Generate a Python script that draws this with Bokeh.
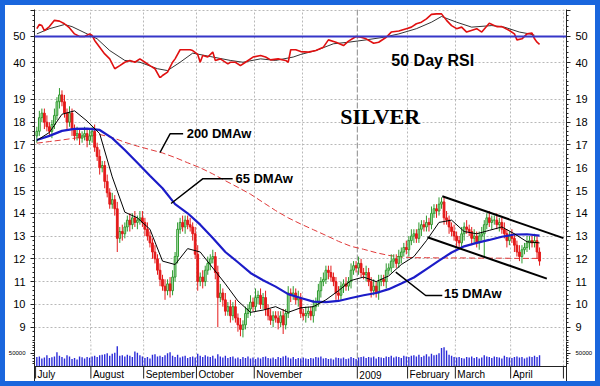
from bokeh.plotting import figure
from bokeh.layouts import column
from bokeh.models import Range1d, LinearAxis, FixedTicker, SingleIntervalTicker, Span, ColumnDataSource
from bokeh.core.properties import value
from bokeh.embed import file_html
from bokeh.resources import INLINE

# ---------------- data ----------------
# trading-day index 0 = 1 July 2008
closes = [
    17.6, 18.2, 18.4, 18.0, 17.8, 17.6, 17.9, 18.3, 18.9, 19.2,
    18.9, 18.4, 18.0, 18.4, 17.7, 17.4, 17.5, 17.3, 17.4, 17.5,
    17.2, 17.4, 17.6, 16.9, 16.5, 16.0, 16.1, 15.4, 14.9, 14.4,
    14.6, 14.2, 12.9, 13.2, 13.1, 13.4, 13.7, 13.5, 13.8, 13.6,
    13.7, 13.8, 13.6, 13.3, 13.0, 12.7, 12.3, 12.0, 11.5, 11.1,
    10.8, 10.6, 10.9, 10.6, 11.2, 12.1, 13.3, 13.6, 13.4, 13.7,
    13.5, 13.4, 13.1, 12.2, 11.0, 11.2, 11.0, 11.5, 11.8, 12.0,
    12.1, 11.4, 10.3, 10.5, 10.2, 9.7, 9.9, 9.5, 9.9, 9.4,
    9.1, 8.9, 9.1, 9.6, 9.8, 10.1, 9.9, 10.3, 10.4, 10.0,
    10.3, 9.8, 9.5, 9.3, 9.5, 9.4, 9.2, 9.5, 9.1, 9.6,
    10.5, 10.4, 10.5, 10.2, 10.3, 9.6, 9.5, 9.6, 9.7, 9.5,
    9.9, 10.1, 10.6, 11.0, 11.1, 11.5, 11.4, 11.2, 11.0, 10.5,
    10.4, 10.8, 10.9, 10.8, 11.0, 11.5, 11.7, 11.6, 11.8, 11.4,
    11.3, 11.4, 11.0, 10.6, 10.8, 10.5, 11.0, 11.1, 11.0, 11.5,
    11.6, 11.9, 12.0, 11.8, 12.1, 12.3, 12.5, 12.4, 12.8, 13.0,
    13.1, 12.9, 13.3, 13.5, 13.4, 13.6, 13.5, 14.0, 14.2, 14.1,
    14.4, 14.5, 13.8, 13.7, 13.4, 13.2, 13.0, 12.8, 12.7, 13.1,
    13.4, 13.3, 13.2, 12.9, 13.0, 12.7, 13.0, 13.1, 13.5, 13.8,
    13.6, 13.7, 13.7, 13.5, 13.6, 13.3, 13.1, 12.8, 13.0, 12.9,
    12.6, 12.3, 12.1, 12.4, 12.5, 12.7, 12.8, 12.7, 12.8, 12.3,
    11.9,
]
opens = [
    17.4, 17.6, 18.2, 18.4, 18.0, 17.8, 17.6, 17.9, 18.3, 18.9,
    19.2, 18.9, 18.4, 18.0, 18.4, 17.7, 17.4, 17.5, 17.3, 17.4,
    17.5, 17.2, 17.4, 17.6, 16.9, 16.5, 16.0, 16.1, 15.4, 14.9,
    14.4, 14.6, 14.2, 12.9, 13.2, 13.1, 13.4, 13.7, 13.5, 13.8,
    13.6, 13.7, 13.8, 13.6, 13.3, 13.0, 12.7, 12.3, 12.0, 11.5,
    11.1, 10.8, 10.6, 10.9, 10.6, 11.2, 12.1, 13.3, 13.6, 13.4,
    13.7, 13.5, 13.4, 13.1, 12.2, 11.0, 11.2, 11.0, 11.5, 11.8,
    12.0, 12.1, 11.4, 10.3, 10.5, 10.2, 9.7, 9.9, 9.5, 9.9,
    9.4, 9.1, 8.9, 9.1, 9.6, 9.8, 10.1, 9.9, 10.3, 10.4,
    10.0, 10.3, 9.8, 9.5, 9.3, 9.5, 9.4, 9.2, 9.5, 9.1,
    9.6, 10.5, 10.4, 10.5, 10.2, 10.3, 9.6, 9.5, 9.6, 9.7,
    9.5, 9.9, 10.1, 10.6, 11.0, 11.1, 11.5, 11.4, 11.2, 11.0,
    10.5, 10.4, 10.8, 10.9, 10.8, 11.0, 11.5, 11.7, 11.6, 11.8,
    11.4, 11.3, 11.4, 11.0, 10.6, 10.8, 10.5, 11.0, 11.1, 11.0,
    11.5, 11.6, 11.9, 12.0, 11.8, 12.1, 12.3, 12.5, 12.4, 12.8,
    13.0, 13.1, 12.9, 13.3, 13.5, 13.4, 13.6, 13.5, 14.0, 14.2,
    14.1, 14.4, 14.5, 13.8, 13.7, 13.4, 13.2, 13.0, 12.8, 12.7,
    13.1, 13.4, 13.3, 13.2, 12.9, 13.0, 12.7, 13.0, 13.1, 13.5,
    13.8, 13.6, 13.7, 13.7, 13.5, 13.6, 13.3, 13.1, 12.8, 13.0,
    12.9, 12.6, 12.3, 12.1, 12.4, 12.5, 12.7, 12.8, 12.7, 12.8,
    12.3,
]
wick_up = [
    .2, .3, .2, .2, .3, .2, .2, .3, .2, .3,
    .2, .3, .2, .3, .2, .2, .3, .2, .2, .3,
    .2, .3, .2, .3, .2, .3, .2, .2, .3, .2,
    .3, .2, .3, .2, .3, .2, .2, .3, .2, .3,
    .2, .3, .3, .2, .3, .2, .2, .3, .2, .3,
    .2, .3, .2, .3, .3, .2, .3, .2, .3, .2,
    .2, .3, .2, .3, .4, .2, .3, .2, .3, .2,
    .3, .2, .3, .4, .2, .3, .2, .3, .2, .3,
    .2, .3, .2, .3, .2, .3, .2, .4, .2, .3,
    .2, .3, .2, .3, .2, .2, .3, .2, .3, .2,
    .3, .2, .3, .2, .3, .2, .2, .3, .2, .2,
    .3, .2, .3, .2, .3, .2, .2, .3, .2, .2,
    .3, .2, .2, .3, .2, .3, .2, .2, .3, .2,
    .2, .3, .2, .2, .3, .2, .3, .2, .2, .3,
    .2, .3, .2, .2, .3, .2, .2, .3, .2, .3,
    .2, .2, .3, .2, .2, .3, .2, .3, .2, .2,
    .3, .2, .2, .3, .2, .2, .3, .2, .2, .3,
    .2, .3, .2, .2, .3, .2, .2, .3, .2, .2,
    .3, .2, .2, .3, .2, .2, .3, .2, .2, .3,
    .2, .2, .3, .2, .2, .3, .2, .2, .3, .2,
    .2,
]
wick_dn = [
    .3, .2, .2, .3, .2, .2, .3, .2, .2, .3,
    .2, .2, .3, .2, .3, .2, .2, .3, .2, .2,
    .3, .2, .3, .2, .2, .3, .2, .3, .2, .2,
    .2, .3, .6, .2, .3, .2, .2, .3, .2, .2,
    .3, .2, .2, .3, .2, .2, .3, .2, .2, .3,
    .2, .4, .2, .3, .2, .2, .3, .2, .2, .3,
    .2, .2, .3, .2, .4, .2, .3, .2, .2, .3,
    .2, .3, 1.3, .2, .3, .2, .2, .3, .2, .2,
    .3, .3, .35, .2, .2, .3, .2, .2, .3, .2,
    .2, .3, .2, .2, .3, .2, .3, .2, .4, .2,
    .2, .3, .2, .2, .3, .2, .2, .3, .2, .2,
    .3, .2, .2, .3, .2, .2, .3, .2, .2, .3,
    .2, .2, .3, .2, .2, .3, .2, .2, .3, .2,
    .2, .3, .2, .3, .2, .2, .3, .2, .2, .3,
    .2, .2, .3, .2, .2, .3, .2, .2, .3, .2,
    .3, .2, .2, .3, .2, .2, .3, .2, .2, .3,
    .2, .2, .3, .2, .3, .2, .2, .3, .2, .2,
    .3, .2, .2, .3, .2, .2, .3, .2, 1.0, .2,
    .2, .3, .2, .2, .3, .2, .2, .3, .2, .2,
    .3, .2, .2, .3, .2, .2, .3, .2, .2, .3,
    .2,
]
# volume in thousands of contracts
volume_k = [
    36, 38, 30, 34, 42, 32, 35, 38, 54, 40, 36, 30, 42, 38, 28, 32, 26, 38, 35, 30, 36, 33,
    38, 40, 36, 42, 44, 46, 50, 40, 48, 52, 76, 40, 42, 38, 44, 40, 36, 56, 52, 42, 38,
    32, 36, 30, 44, 46, 38, 40, 36, 42, 50, 54, 40, 36, 44, 34, 38, 40, 32, 36, 38, 34,
    48, 40, 36, 42, 38, 36, 40, 30, 46, 38, 34, 40, 32, 36, 38, 30, 34, 28, 36, 32, 38, 30, 34,
    28, 34, 30, 36, 38, 32, 30, 34, 28, 36, 32, 38, 40, 34, 30, 36, 28, 32, 30,
    34, 30, 28, 32, 30, 36, 34, 38, 30, 32, 28, 30, 26, 34, 32, 30, 34, 28, 30, 36, 32, 28,
    34, 36, 38, 32, 36, 34, 38, 30, 36, 34, 32, 38, 36, 40, 34, 38, 36, 32, 40, 38,
    36, 40, 42, 38, 44, 36, 40, 46, 38, 48, 42, 44, 50, 70, 72, 60, 44, 40, 36,
    34, 36, 32, 30, 36, 34, 38, 32, 36, 30, 34, 42, 38, 36, 32, 38, 36, 34, 30, 40, 36, 34,
    32, 36, 38, 34, 36, 30, 34, 38, 36, 40, 36, 42,
]

ma_days = [0, 5, 10, 15, 20, 25, 30, 35, 40, 45, 50, 55, 60, 65, 70, 75, 80, 85, 90, 95,
           100, 105, 110, 115, 120, 125, 130, 135, 140, 145, 150, 155, 160, 165, 170, 175,
           180, 185, 190, 195, 200]
dma15 = [17.2, 17.55, 18.35, 18.5, 18.05, 17.5, 15.6, 14.05, 13.8, 13.3, 11.9, 11.75, 12.45,
         12.3, 11.6, 10.9, 10.15, 9.65, 9.75, 9.9, 9.65, 9.85, 9.9, 10.2, 10.6, 11.05, 11.2,
         11.0, 11.25, 11.75, 12.1, 12.8, 13.6, 13.7, 13.2, 13.1, 13.25, 13.4, 13.1, 12.75, 12.7]
dma65 = [17.22, 17.40, 17.62, 17.71, 17.72, 17.66, 17.30, 16.78, 16.22, 15.65, 15.10, 14.40,
         14.00, 13.50, 12.92, 12.30, 11.85, 11.38, 11.06, 10.78, 10.45, 10.28, 10.12, 10.10,
         10.15, 10.28, 10.40, 10.50, 10.67, 10.92, 11.18, 11.55, 11.92, 12.28, 12.55, 12.70,
         12.83, 12.97, 13.07, 13.08, 13.02]
dma200 = [17.08, 17.15, 17.22, 17.30, 17.38, 17.46, 17.33, 17.12, 16.95, 16.80, 16.65, 16.45,
          16.22, 16.00, 15.73, 15.43, 15.14, 14.84, 14.48, 14.12, 13.80, 13.53, 13.28, 13.03,
          12.77, 12.55, 12.42, 12.27, 12.15, 12.08, 12.05, 12.05, 12.04, 12.04, 12.04, 12.03,
          12.03, 12.03, 12.02, 12.02, 12.02]

rsi_day = [0, 1, 2, 3, 5, 7, 9, 11, 13, 15, 17, 19, 21, 22, 23, 25, 27, 29, 31, 33, 35, 37,
           39, 41, 43, 45, 47, 49, 50, 52, 54, 55, 57, 59, 61, 62, 64, 65, 66, 68, 70, 71, 73,
           76, 77, 79, 81, 83, 86, 89, 91, 93, 96, 99, 100, 101, 103, 105, 108, 111, 114, 116,
           119, 122, 124, 127, 129, 131, 134, 136, 139, 141, 144, 147, 149, 151, 153, 155, 157,
           159, 161, 163, 165, 167, 169, 171, 175, 177, 180, 183, 185, 188, 190, 191, 193, 195,
           197, 198, 199, 200]
rsi_val = [53.0, 54.6, 54.2, 52.3, 53.8, 56.2, 55.9, 54.9, 53.3, 51.0, 50.0, 50.0, 51.0, 50.4,
           48.5, 45.9, 43.3, 41.4, 37.6, 38.8, 40.1, 40.8, 40.1, 41.4, 40.1, 38.8, 37.6, 34.1,
           35.0, 36.3, 40.1, 41.4, 44.9, 44.9, 44.9, 44.6, 43.1, 40.1, 42.7, 42.1, 44.0, 40.8,
           41.4, 39.5, 40.1, 40.1, 38.8, 40.1, 42.1, 42.7, 42.1, 41.0, 41.4, 40.8, 40.1, 44.9,
           44.9, 44.2, 44.0, 44.6, 45.9, 48.7, 47.8, 46.5, 48.2, 50.0, 49.7, 49.1, 47.4, 47.8,
           49.7, 51.7, 52.1, 53.0, 53.6, 54.9, 55.5, 56.8, 58.5, 58.7, 58.7, 56.2, 54.2, 53.0,
           53.6, 51.7, 53.0, 51.7, 55.1, 53.8, 53.8, 52.3, 51.0, 48.7, 49.1, 51.0, 51.3, 49.1,
           47.8, 47.0]
rsi_avg_day = [0, 5, 11, 14, 20, 24, 29, 35, 41, 48, 52, 57, 62, 69, 77, 82, 89, 95, 102, 105,
               111, 118, 124, 131, 138, 144, 151, 157, 161, 167, 173, 181, 186, 192, 196, 198]
rsi_avg_val = [51.0, 53.0, 54.6, 53.8, 51.0, 49.1, 44.6, 40.8, 40.1, 37.6, 36.9, 40.1, 43.6,
               42.3, 40.8, 40.1, 41.4, 40.8, 42.1, 43.1, 44.6, 47.2, 47.8, 48.7, 49.7, 51.0,
               53.0, 55.5, 57.7, 55.5, 53.6, 54.2, 53.6, 51.7, 51.0, 50.5]

# drawn trend channel and label leaders (day index, price)
channel_top_day = [161.3, 209.5]
channel_top_px = [14.75, 12.91]
channel_bot_day = [155.4, 202.9]
channel_bot_px = [12.95, 11.13]
lead200_day = [49.0, 53.0, 58.2]
lead200_px = [16.67, 17.49, 17.49]
lead65_day = [53.4, 66.1, 77.9]
lead65_px = [14.43, 15.52, 15.52]
lead15_day = [142.8, 154.7, 161.3]
lead15_px = [11.42, 10.39, 10.39]

month_start = [0, 22, 43, 64, 87, 106, 128, 148, 167, 189, 210]
month_names = ["July", "August", "September", "October", "November", "",
               "2009", "February", "March", "April", ""]

# ---------------- styling ----------------
FONT = "Liberation Sans"
AX = "#222222"
GRID = "#b8b8b8"
VPX = 3760          # contracts per pixel in the volume strip
x_range = Range1d(-0.93, 210.72)
new_year = month_start[6] - 0.5
grid_pos = [m - 0.5 for i, m in enumerate(month_start) if i not in (0, 6)]


def make_fig(height, y_range, top=0, bottom=0):
    p = figure(width=590, height=height, x_range=x_range, y_range=y_range,
               output_backend="svg", toolbar_location=None, x_axis_location=None,
               y_axis_location="left", min_border_left=29, min_border_right=27,
               min_border_top=top, min_border_bottom=bottom,
               background_fill_color="white", border_fill_color="white",
               outline_line_color=None)
    p.xgrid.ticker = FixedTicker(ticks=grid_pos)
    p.xgrid.grid_line_color = GRID
    p.xgrid.grid_line_dash = "2 2"
    p.ygrid.grid_line_color = GRID
    p.ygrid.grid_line_dash = "2 2"
    return p


def new_year_line(p):
    p.add_layout(Span(location=new_year, dimension="height", line_color="#8a8a8a",
                      line_dash="6 2", line_width=1, level="underlay"))


def style_y(ax, ticker, size="11px", overrides=None):
    ax.ticker = ticker
    ax.axis_line_color = AX
    ax.major_tick_out = 4
    ax.major_tick_in = 0
    ax.minor_tick_out = 2
    ax.minor_tick_in = 0
    ax.major_tick_line_color = AX
    ax.minor_tick_line_color = AX
    ax.major_label_text_font = FONT
    ax.major_label_text_font_size = size
    ax.major_label_text_color = "black"
    ax.major_label_standoff = 5
    if overrides:
        ax.major_label_overrides = overrides


# ---- RSI panel ----
p_rsi = make_fig(73, Range1d(33.85, 60.38), top=4)
new_year_line(p_rsi)
rsi_ticker = FixedTicker(ticks=[40, 50, 60], minor_ticks=list(range(34, 61, 2)))
style_y(p_rsi.yaxis[0], rsi_ticker, overrides={60: ""})
r_ax = LinearAxis(ticker=rsi_ticker)
style_y(r_ax, rsi_ticker, overrides={60: ""})
p_rsi.add_layout(r_ax, "right")
p_rsi.ygrid.ticker = rsi_ticker
p_rsi.add_layout(Span(location=50, dimension="width", line_color="#3636c8", line_width=2))
p_rsi.line(rsi_avg_day, rsi_avg_val, line_color="black", line_width=0.8)
p_rsi.line(rsi_day, rsi_val, line_color="#e01010", line_width=1.6)
p_rsi.text(x=[157.5], y=[40.8], text=["50 Day RSI"], text_align="center",
           text_baseline="middle", text_font=value(FONT), text_font_style="bold",
           text_font_size="16px", text_color="black")

# ---- price panel ----
p_px = make_fig(263, Range1d(8.37, 19.92))
new_year_line(p_px)
px_ticker = SingleIntervalTicker(interval=1, num_minor_ticks=5)
style_y(p_px.yaxis[0], px_ticker)
r_ax2 = LinearAxis(ticker=px_ticker)
style_y(r_ax2, px_ticker)
p_px.add_layout(r_ax2, "right")
p_px.ygrid.ticker = px_ticker

days = list(range(len(closes)))
highs = [max(o, c) + w for o, c, w in zip(opens, closes, wick_up)]
lows = [min(o, c) - w for o, c, w in zip(opens, closes, wick_dn)]
up = [c >= o for o, c in zip(opens, closes)]


def subset(flag):
    idx = [i for i in days if up[i] == flag]
    return ColumnDataSource(dict(
        x=[days[i] for i in idx], o=[opens[i] for i in idx], c=[closes[i] for i in idx],
        h=[highs[i] for i in idx], l=[lows[i] for i in idx]))


src_up, src_dn = subset(True), subset(False)
p_px.line(ma_days, dma200, line_color="#e03a3a", line_width=1, line_dash="6 3")
p_px.segment(x0="x", y0="l", x1="x", y1="h", source=src_up, line_color="#2e9a2e", line_width=1)
p_px.segment(x0="x", y0="l", x1="x", y1="h", source=src_dn, line_color="#e41a1a", line_width=1)
p_px.vbar(x="x", bottom="o", top="c", width=0.7, source=src_up,
          fill_color="#bfe8bf", line_color="#2e9a2e", line_width=1)
p_px.vbar(x="x", bottom="c", top="o", width=0.7, source=src_dn,
          fill_color="#e41a1a", line_color="#e41a1a", line_width=1)
p_px.line(ma_days, dma65, line_color="#1c1cc8", line_width=2.2)
p_px.line(ma_days, dma15, line_color="black", line_width=1)

for xs, ys in [(channel_top_day, channel_top_px), (channel_bot_day, channel_bot_px)]:
    p_px.line(xs, ys, line_color="black", line_width=2)
for xs, ys in [(lead200_day, lead200_px), (lead65_day, lead65_px), (lead15_day, lead15_px)]:
    p_px.line(xs, ys, line_color="black", line_width=1.5)

p_px.text(x=[59.6, 79.0, 162.0], y=[17.49, 15.52, 10.48],
          text=["200 DMAw", "65 DMAw", "15 DMAw"], text_align="left",
          text_baseline="middle", text_font=value(FONT), text_font_style="bold",
          text_font_size="13px", text_color="black")
p_px.text(x=[136.6], y=[18.27], text=["SILVER"], text_align="center",
          text_baseline="middle", text_font=value("Liberation Serif"),
          text_font_style="bold", text_font_size="22px", text_color="black")

# ---- volume panel (its frame also holds the month strip below the zero line) ----
p_vol = make_fig(40, Range1d(-15 * VPX, 25 * VPX))
vol_ticker = FixedTicker(ticks=[50000], minor_ticks=list(range(10000, 94000, 10000)))
style_y(p_vol.yaxis[0], vol_ticker, size="6px")
r_ax3 = LinearAxis(ticker=vol_ticker)
style_y(r_ax3, vol_ticker, size="6px")
p_vol.add_layout(r_ax3, "right")
p_vol.ygrid.visible = False
p_vol.xgrid.visible = False
# grid continues only above the zero line
p_vol.segment(x0=grid_pos, y0=[0] * len(grid_pos), x1=grid_pos, y1=[25 * VPX] * len(grid_pos),
              line_color=GRID, line_dash="2 2", level="underlay")
p_vol.segment(x0=[new_year], y0=[0], x1=[new_year], y1=[25 * VPX],
              line_color="#8a8a8a", line_dash="6 2", level="underlay")
p_vol.vbar(x=days, top=[v * 1000 for v in volume_k], width=0.55,
           fill_color="#2a2ad8", line_color=None)
# month strip: zero line, separators, labels
p_vol.add_layout(Span(location=0, dimension="width", line_color=AX, line_width=1))
sep = [m - 0.5 for i, m in enumerate(month_start) if month_names[i] or i == 10]
p_vol.segment(x0=sep, y0=[0] * len(sep), x1=sep, y1=[-12 * VPX] * len(sep),
              line_color=AX, line_width=1)
lab_x = [m - 0.5 + 0.8 for m, n in zip(month_start, month_names) if n]
lab_t = [n for n in month_names if n]
p_vol.text(x=lab_x, y=[-8 * VPX] * len(lab_x), text=lab_t, text_align="left",
           text_baseline="middle", text_font=value(FONT), text_font_size="10px",
           text_color="black")

layout = column(p_rsi, p_px, p_vol, spacing=0,
                styles={"border": "5px solid #1a66dd", "background-color": "white"})

open("out.html", "w").write(file_html(layout, INLINE))
